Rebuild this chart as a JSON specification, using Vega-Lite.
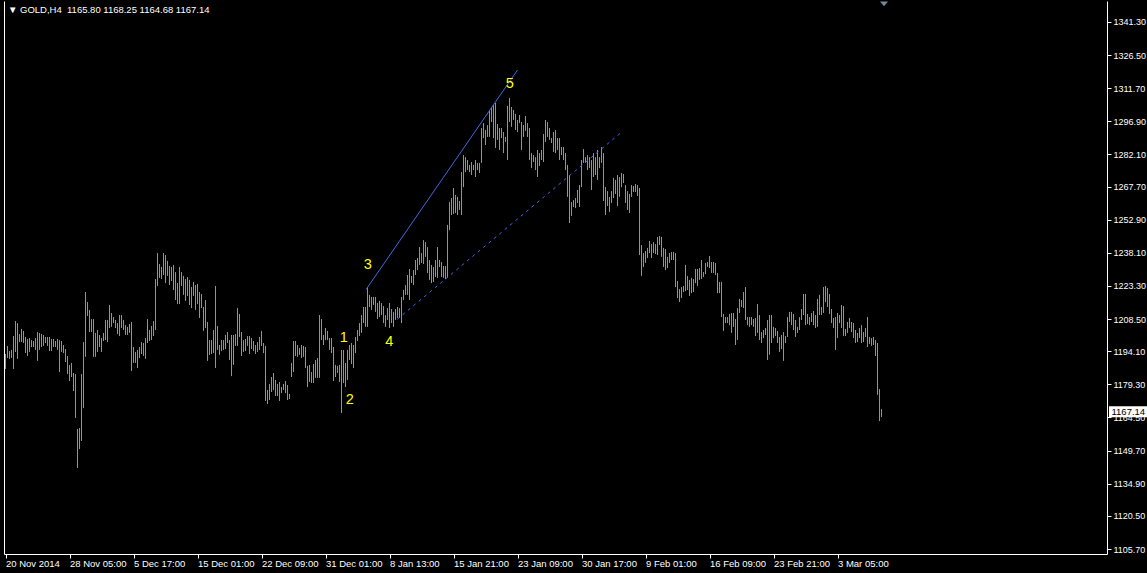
{
"$schema":"https://vega.github.io/schema/vega-lite/v6.json",
"width":1103,"height":553,
"autosize":{"type":"none"},
"padding":{"left":4,"top":1,"right":40,"bottom":19},
"background":"#000000",
"config":{"view":{"stroke":null,"fill":"#000000"},"font":"Liberation Sans"},
"title":{"text":"▼ GOLD,H4\u00a0 1165.80 1168.25 1164.68 1167.14","anchor":"start","frame":"group","orient":"top","offset":-13,"color":"#ffffff","font":"Liberation Sans","fontSize":9.5,"fontWeight":"normal","dx":4},
"datasets":{
"bars":[
{"i":0,"h":1192.9,"l":1186.2},{"i":1,"h":1196.5,"l":1191.1},{"i":2,"h":1194.2,"l":1190.7},{"i":3,"h":1194.7,"l":1191.1},{"i":4,"h":1200.9,"l":1186.2},{"i":5,"h":1207.6,"l":1193.8},{"i":6,"h":1206.7,"l":1190.7},{"i":7,"h":1201.8,"l":1198.2},{"i":8,"h":1204.1,"l":1198.2},{"i":9,"h":1203.2,"l":1197.8},
{"i":10,"h":1200.5,"l":1193.3},{"i":11,"h":1199.6,"l":1192.0},{"i":12,"h":1200.0,"l":1193.8},{"i":13,"h":1199.1,"l":1196.0},{"i":14,"h":1198.7,"l":1196.0},{"i":15,"h":1200.0,"l":1194.7},{"i":16,"h":1202.7,"l":1189.8},{"i":17,"h":1202.3,"l":1194.7},{"i":18,"h":1201.8,"l":1196.0},{"i":19,"h":1201.4,"l":1196.5},
{"i":20,"h":1200.5,"l":1197.8},{"i":21,"h":1200.5,"l":1196.5},{"i":22,"h":1200.5,"l":1194.2},{"i":23,"h":1199.6,"l":1194.2},{"i":24,"h":1199.6,"l":1196.0},{"i":25,"h":1198.7,"l":1196.0},{"i":26,"h":1199.6,"l":1194.7},{"i":27,"h":1199.1,"l":1184.8},{"i":28,"h":1198.7,"l":1193.8},{"i":29,"h":1196.9,"l":1193.3},
{"i":30,"h":1195.1,"l":1189.3},{"i":31,"h":1192.0,"l":1183.9},{"i":32,"h":1188.0,"l":1180.8},{"i":33,"h":1188.9,"l":1182.6},{"i":34,"h":1184.4,"l":1176.3},{"i":35,"h":1183.9,"l":1164.3},{"i":36,"h":1159.4,"l":1141.9},{"i":37,"h":1159.8,"l":1150.4},{"i":38,"h":1183.9,"l":1154.0},{"i":39,"h":1198.2,"l":1168.7},
{"i":40,"h":1220.6,"l":1191.6},{"i":41,"h":1216.1,"l":1209.9},{"i":42,"h":1212.6,"l":1202.7},{"i":43,"h":1208.5,"l":1202.7},{"i":44,"h":1208.5,"l":1191.6},{"i":45,"h":1202.3,"l":1191.6},{"i":46,"h":1203.6,"l":1193.8},{"i":47,"h":1201.4,"l":1196.0},{"i":48,"h":1200.0,"l":1193.8},{"i":49,"h":1202.3,"l":1198.7},
{"i":50,"h":1208.1,"l":1199.1},{"i":51,"h":1208.1,"l":1198.2},{"i":52,"h":1214.8,"l":1204.5},{"i":53,"h":1211.2,"l":1205.0},{"i":54,"h":1209.4,"l":1206.7},{"i":55,"h":1208.1,"l":1204.5},{"i":56,"h":1206.7,"l":1201.8},{"i":57,"h":1210.3,"l":1200.9},{"i":58,"h":1210.3,"l":1204.5},{"i":59,"h":1208.1,"l":1203.6},
{"i":60,"h":1205.8,"l":1201.4},{"i":61,"h":1205.0,"l":1201.4},{"i":62,"h":1206.3,"l":1202.3},{"i":63,"h":1207.2,"l":1185.3},{"i":64,"h":1196.0,"l":1188.9},{"i":65,"h":1193.8,"l":1188.9},{"i":66,"h":1194.7,"l":1186.6},{"i":67,"h":1196.0,"l":1191.1},{"i":68,"h":1198.2,"l":1192.9},{"i":69,"h":1197.8,"l":1192.0},
{"i":70,"h":1200.0,"l":1190.7},{"i":71,"h":1208.5,"l":1197.8},{"i":72,"h":1203.6,"l":1198.7},{"i":73,"h":1205.4,"l":1199.1},{"i":74,"h":1207.6,"l":1200.9},{"i":75,"h":1226.4,"l":1203.6},{"i":76,"h":1238.0,"l":1223.3},{"i":77,"h":1233.1,"l":1226.9},{"i":78,"h":1231.8,"l":1226.4},{"i":79,"h":1238.0,"l":1228.2},
{"i":80,"h":1237.1,"l":1224.6},{"i":81,"h":1234.5,"l":1227.8},{"i":82,"h":1232.2,"l":1223.7},{"i":83,"h":1231.8,"l":1225.5},{"i":84,"h":1232.7,"l":1221.5},{"i":85,"h":1229.5,"l":1217.0},{"i":86,"h":1224.6,"l":1215.2},{"i":87,"h":1231.8,"l":1215.2},{"i":88,"h":1229.5,"l":1223.3},{"i":89,"h":1227.8,"l":1219.3},
{"i":90,"h":1226.4,"l":1216.6},{"i":91,"h":1227.3,"l":1218.8},{"i":92,"h":1226.0,"l":1214.8},{"i":93,"h":1222.8,"l":1213.4},{"i":94,"h":1225.1,"l":1218.8},{"i":95,"h":1223.7,"l":1212.6},{"i":96,"h":1224.2,"l":1215.2},{"i":97,"h":1220.6,"l":1209.0},{"i":98,"h":1219.7,"l":1213.4},{"i":99,"h":1213.9,"l":1203.2},
{"i":100,"h":1217.0,"l":1204.5},{"i":101,"h":1207.2,"l":1189.8},{"i":102,"h":1199.1,"l":1192.5},{"i":103,"h":1199.1,"l":1192.9},{"i":104,"h":1203.6,"l":1193.3},{"i":105,"h":1223.3,"l":1186.6},{"i":106,"h":1205.4,"l":1194.7},{"i":107,"h":1196.9,"l":1192.5},{"i":108,"h":1199.1,"l":1194.2},{"i":109,"h":1199.1,"l":1194.7},
{"i":110,"h":1201.4,"l":1195.1},{"i":111,"h":1202.7,"l":1197.8},{"i":112,"h":1199.1,"l":1190.2},{"i":113,"h":1201.4,"l":1183.0},{"i":114,"h":1201.4,"l":1188.0},{"i":115,"h":1201.8,"l":1196.5},{"i":116,"h":1213.4,"l":1196.5},{"i":117,"h":1210.8,"l":1200.5},{"i":118,"h":1202.7,"l":1192.0},{"i":119,"h":1199.1,"l":1193.8},
{"i":120,"h":1199.6,"l":1194.2},{"i":121,"h":1200.9,"l":1196.5},{"i":122,"h":1200.9,"l":1192.9},{"i":123,"h":1200.0,"l":1195.1},{"i":124,"h":1198.7,"l":1194.2},{"i":125,"h":1196.9,"l":1192.9},{"i":126,"h":1198.2,"l":1193.8},{"i":127,"h":1200.5,"l":1194.7},{"i":128,"h":1203.2,"l":1196.5},{"i":129,"h":1197.8,"l":1193.3},
{"i":130,"h":1196.5,"l":1171.9},{"i":131,"h":1176.8,"l":1170.5},{"i":132,"h":1179.5,"l":1172.3},{"i":133,"h":1182.6,"l":1175.9},{"i":134,"h":1184.4,"l":1176.8},{"i":135,"h":1181.3,"l":1174.1},{"i":136,"h":1179.5,"l":1174.1},{"i":137,"h":1180.4,"l":1171.9},{"i":138,"h":1178.1,"l":1175.4},{"i":139,"h":1179.5,"l":1176.8},
{"i":140,"h":1180.8,"l":1175.4},{"i":141,"h":1179.0,"l":1172.3},{"i":142,"h":1175.0,"l":1172.8},{"i":143,"h":1188.9,"l":1182.6},{"i":144,"h":1198.7,"l":1184.8},{"i":145,"h":1198.7,"l":1192.0},{"i":146,"h":1196.9,"l":1191.6},{"i":147,"h":1195.6,"l":1192.5},{"i":148,"h":1196.9,"l":1191.1},{"i":149,"h":1196.5,"l":1191.6},
{"i":150,"h":1196.0,"l":1186.6},{"i":151,"h":1187.6,"l":1178.1},{"i":152,"h":1188.0,"l":1180.4},{"i":153,"h":1184.8,"l":1179.9},{"i":154,"h":1188.4,"l":1179.9},{"i":155,"h":1190.2,"l":1182.2},{"i":156,"h":1191.1,"l":1182.2},{"i":157,"h":1210.3,"l":1182.2},{"i":158,"h":1208.5,"l":1199.1},{"i":159,"h":1201.4,"l":1196.9},
{"i":160,"h":1204.5,"l":1199.1},{"i":161,"h":1203.2,"l":1199.1},{"i":162,"h":1200.0,"l":1194.7},{"i":163,"h":1200.0,"l":1193.3},{"i":164,"h":1196.0,"l":1180.8},{"i":165,"h":1188.0,"l":1182.6},{"i":166,"h":1187.6,"l":1184.4},{"i":167,"h":1188.0,"l":1180.4},{"i":168,"h":1194.7,"l":1166.5},{"i":169,"h":1194.7,"l":1179.9},
{"i":170,"h":1188.9,"l":1178.1},{"i":171,"h":1194.7,"l":1181.3},{"i":172,"h":1196.9,"l":1190.2},{"i":173,"h":1197.8,"l":1188.4},{"i":174,"h":1196.9,"l":1186.6},{"i":175,"h":1200.5,"l":1193.3},{"i":176,"h":1203.6,"l":1198.7},{"i":177,"h":1206.7,"l":1200.9},{"i":178,"h":1210.3,"l":1202.3},{"i":179,"h":1213.9,"l":1206.7},
{"i":180,"h":1213.9,"l":1205.0},{"i":181,"h":1222.8,"l":1205.0},{"i":182,"h":1219.3,"l":1213.9},{"i":183,"h":1218.4,"l":1212.6},{"i":184,"h":1218.4,"l":1214.8},{"i":185,"h":1218.4,"l":1211.7},{"i":186,"h":1215.7,"l":1208.5},{"i":187,"h":1216.6,"l":1209.4},{"i":188,"h":1215.7,"l":1210.3},{"i":189,"h":1214.3,"l":1206.7},
{"i":190,"h":1210.3,"l":1205.0},{"i":191,"h":1213.4,"l":1208.1},{"i":192,"h":1215.7,"l":1204.5},{"i":193,"h":1213.0,"l":1206.7},{"i":194,"h":1211.7,"l":1205.0},{"i":195,"h":1213.0,"l":1208.1},{"i":196,"h":1213.9,"l":1209.0},{"i":197,"h":1213.4,"l":1209.0},{"i":198,"h":1218.4,"l":1206.7},{"i":199,"h":1221.5,"l":1217.0},
{"i":200,"h":1223.7,"l":1219.3},{"i":201,"h":1228.2,"l":1219.3},{"i":202,"h":1230.9,"l":1217.0},{"i":203,"h":1227.8,"l":1224.6},{"i":204,"h":1230.4,"l":1223.7},{"i":205,"h":1234.9,"l":1228.2},{"i":206,"h":1235.8,"l":1230.4},{"i":207,"h":1240.7,"l":1232.7},{"i":208,"h":1238.0,"l":1233.6},{"i":209,"h":1243.8,"l":1233.1},
{"i":210,"h":1242.9,"l":1236.3},{"i":211,"h":1240.7,"l":1229.1},{"i":212,"h":1234.9,"l":1226.0},{"i":213,"h":1232.7,"l":1224.6},{"i":214,"h":1231.8,"l":1225.1},{"i":215,"h":1234.9,"l":1227.3},{"i":216,"h":1240.7,"l":1226.9},{"i":217,"h":1234.9,"l":1231.8},{"i":218,"h":1234.0,"l":1227.3},{"i":219,"h":1232.2,"l":1226.9},
{"i":220,"h":1232.2,"l":1226.4},{"i":221,"h":1250.6,"l":1226.9},{"i":222,"h":1260.8,"l":1248.3},{"i":223,"h":1262.6,"l":1255.0},{"i":224,"h":1267.1,"l":1255.5},{"i":225,"h":1264.0,"l":1255.9},{"i":226,"h":1263.1,"l":1255.0},{"i":227,"h":1261.3,"l":1257.3},{"i":228,"h":1274.2,"l":1255.0},{"i":229,"h":1281.8,"l":1267.5},
{"i":230,"h":1280.9,"l":1274.2},{"i":231,"h":1279.6,"l":1275.1},{"i":232,"h":1277.4,"l":1274.2},{"i":233,"h":1278.7,"l":1272.9},{"i":234,"h":1277.4,"l":1275.1},{"i":235,"h":1279.6,"l":1272.0},{"i":236,"h":1278.3,"l":1275.1},{"i":237,"h":1278.3,"l":1273.8},{"i":238,"h":1293.9,"l":1278.3},{"i":239,"h":1296.1,"l":1289.4},
{"i":240,"h":1293.0,"l":1286.3},{"i":241,"h":1295.2,"l":1289.9},{"i":242,"h":1302.0,"l":1289.9},{"i":243,"h":1303.3,"l":1296.6},{"i":244,"h":1304.2,"l":1289.4},{"i":245,"h":1305.1,"l":1285.0},{"i":246,"h":1295.7,"l":1288.6},{"i":247,"h":1293.9,"l":1284.1},{"i":248,"h":1293.9,"l":1289.4},{"i":249,"h":1292.1,"l":1282.7},
{"i":250,"h":1289.9,"l":1287.7},{"i":251,"h":1303.8,"l":1279.6},{"i":252,"h":1307.3,"l":1296.6},{"i":253,"h":1303.3,"l":1294.4},{"i":254,"h":1302.0,"l":1297.5},{"i":255,"h":1300.2,"l":1293.0},{"i":256,"h":1297.5,"l":1292.1},{"i":257,"h":1299.7,"l":1296.1},{"i":258,"h":1296.6,"l":1284.1},{"i":259,"h":1295.2,"l":1289.9},
{"i":260,"h":1299.3,"l":1292.6},{"i":261,"h":1296.1,"l":1289.9},{"i":262,"h":1293.9,"l":1279.6},{"i":263,"h":1282.7,"l":1276.0},{"i":264,"h":1281.8,"l":1278.7},{"i":265,"h":1280.9,"l":1275.1},{"i":266,"h":1284.1,"l":1272.0},{"i":267,"h":1282.7,"l":1276.9},{"i":268,"h":1284.1,"l":1279.6},{"i":269,"h":1291.2,"l":1278.7},
{"i":270,"h":1297.5,"l":1287.7},{"i":271,"h":1296.6,"l":1289.9},{"i":272,"h":1293.9,"l":1288.6},{"i":273,"h":1289.4,"l":1287.2},{"i":274,"h":1292.1,"l":1283.2},{"i":275,"h":1293.0,"l":1282.7},{"i":276,"h":1289.4,"l":1284.1},{"i":277,"h":1289.4,"l":1279.6},{"i":278,"h":1285.4,"l":1281.8},{"i":279,"h":1285.4,"l":1279.6},
{"i":280,"h":1282.7,"l":1275.1},{"i":281,"h":1277.4,"l":1263.1},{"i":282,"h":1272.9,"l":1251.4},{"i":283,"h":1260.8,"l":1254.6},{"i":284,"h":1261.7,"l":1258.6},{"i":285,"h":1262.6,"l":1258.1},{"i":286,"h":1266.2,"l":1260.4},{"i":287,"h":1268.4,"l":1258.6},{"i":288,"h":1279.6,"l":1267.5},{"i":289,"h":1284.5,"l":1278.3},
{"i":290,"h":1280.9,"l":1278.3},{"i":291,"h":1281.8,"l":1275.1},{"i":292,"h":1280.9,"l":1276.0},{"i":293,"h":1279.6,"l":1266.2},{"i":294,"h":1282.7,"l":1272.0},{"i":295,"h":1280.9,"l":1272.9},{"i":296,"h":1284.1,"l":1270.7},{"i":297,"h":1280.9,"l":1276.0},{"i":298,"h":1285.4,"l":1278.3},{"i":299,"h":1282.7,"l":1261.3},
{"i":300,"h":1267.5,"l":1255.0},{"i":301,"h":1265.7,"l":1259.0},{"i":302,"h":1263.1,"l":1256.4},{"i":303,"h":1265.7,"l":1260.4},{"i":304,"h":1271.6,"l":1262.6},{"i":305,"h":1270.7,"l":1264.4},{"i":306,"h":1272.9,"l":1259.0},{"i":307,"h":1272.0,"l":1263.1},{"i":308,"h":1273.8,"l":1267.5},{"i":309,"h":1273.3,"l":1269.3},
{"i":310,"h":1268.4,"l":1260.4},{"i":311,"h":1265.7,"l":1257.3},{"i":312,"h":1264.4,"l":1255.9},{"i":313,"h":1268.4,"l":1263.1},{"i":314,"h":1268.0,"l":1265.3},{"i":315,"h":1268.9,"l":1265.3},{"i":316,"h":1268.4,"l":1263.5},{"i":317,"h":1267.1,"l":1237.1},{"i":318,"h":1241.6,"l":1227.8},{"i":319,"h":1238.0,"l":1231.8},
{"i":320,"h":1238.9,"l":1233.6},{"i":321,"h":1240.3,"l":1235.8},{"i":322,"h":1243.4,"l":1238.0},{"i":323,"h":1242.0,"l":1235.8},{"i":324,"h":1242.9,"l":1238.0},{"i":325,"h":1242.0,"l":1237.6},{"i":326,"h":1245.2,"l":1237.1},{"i":327,"h":1245.6,"l":1241.6},{"i":328,"h":1245.2,"l":1236.3},{"i":329,"h":1240.3,"l":1231.8},
{"i":330,"h":1239.8,"l":1230.4},{"i":331,"h":1236.3,"l":1231.3},{"i":332,"h":1238.0,"l":1233.6},{"i":333,"h":1238.5,"l":1234.9},{"i":334,"h":1238.5,"l":1234.9},{"i":335,"h":1238.0,"l":1222.8},{"i":336,"h":1225.5,"l":1217.9},{"i":337,"h":1221.9,"l":1216.1},{"i":338,"h":1222.8,"l":1217.9},{"i":339,"h":1223.3,"l":1220.6},
{"i":340,"h":1232.7,"l":1221.0},{"i":341,"h":1227.8,"l":1221.5},{"i":342,"h":1226.0,"l":1218.8},{"i":343,"h":1226.9,"l":1220.1},{"i":344,"h":1226.4,"l":1220.6},{"i":345,"h":1230.9,"l":1224.6},{"i":346,"h":1230.9,"l":1223.3},{"i":347,"h":1231.3,"l":1226.0},{"i":348,"h":1234.9,"l":1226.4},{"i":349,"h":1229.5,"l":1227.3},
{"i":350,"h":1233.6,"l":1228.6},{"i":351,"h":1234.0,"l":1231.8},{"i":352,"h":1236.7,"l":1231.3},{"i":353,"h":1234.0,"l":1229.1},{"i":354,"h":1234.0,"l":1229.1},{"i":355,"h":1233.6,"l":1228.2},{"i":356,"h":1229.1,"l":1220.1},{"i":357,"h":1225.1,"l":1220.1},{"i":358,"h":1225.1,"l":1209.4},{"i":359,"h":1210.8,"l":1203.2},
{"i":360,"h":1209.4,"l":1206.7},{"i":361,"h":1209.4,"l":1206.7},{"i":362,"h":1210.8,"l":1205.8},{"i":363,"h":1211.2,"l":1202.3},{"i":364,"h":1211.2,"l":1205.0},{"i":365,"h":1208.5,"l":1196.9},{"i":366,"h":1213.4,"l":1199.1},{"i":367,"h":1217.5,"l":1211.2},{"i":368,"h":1217.0,"l":1213.9},{"i":369,"h":1220.6,"l":1213.4},
{"i":370,"h":1222.8,"l":1208.1},{"i":371,"h":1209.4,"l":1205.8},{"i":372,"h":1209.4,"l":1205.0},{"i":373,"h":1209.4,"l":1205.8},{"i":374,"h":1208.5,"l":1205.0},{"i":375,"h":1209.0,"l":1200.9},{"i":376,"h":1215.2,"l":1202.3},{"i":377,"h":1210.3,"l":1199.1},{"i":378,"h":1202.7,"l":1197.8},{"i":379,"h":1203.6,"l":1200.0},
{"i":380,"h":1204.5,"l":1201.4},{"i":381,"h":1208.1,"l":1190.2},{"i":382,"h":1210.3,"l":1192.5},{"i":383,"h":1210.3,"l":1197.8},{"i":384,"h":1205.0,"l":1200.0},{"i":385,"h":1204.5,"l":1200.9},{"i":386,"h":1203.2,"l":1197.8},{"i":387,"h":1200.5,"l":1193.8},{"i":388,"h":1201.4,"l":1195.1},{"i":389,"h":1202.7,"l":1189.8},
{"i":390,"h":1200.9,"l":1197.8},{"i":391,"h":1209.4,"l":1200.5},{"i":392,"h":1211.7,"l":1207.2},{"i":393,"h":1211.7,"l":1205.8},{"i":394,"h":1210.8,"l":1203.6},{"i":395,"h":1208.1,"l":1200.5},{"i":396,"h":1205.0,"l":1202.3},{"i":397,"h":1209.4,"l":1203.6},{"i":398,"h":1213.0,"l":1208.1},{"i":399,"h":1219.7,"l":1210.3},
{"i":400,"h":1219.7,"l":1205.8},{"i":401,"h":1210.8,"l":1206.3},{"i":402,"h":1209.4,"l":1205.8},{"i":403,"h":1211.2,"l":1207.2},{"i":404,"h":1212.1,"l":1205.8},{"i":405,"h":1210.3,"l":1204.5},{"i":406,"h":1217.5,"l":1205.0},{"i":407,"h":1219.3,"l":1210.3},{"i":408,"h":1213.9,"l":1210.3},{"i":409,"h":1222.8,"l":1211.2},
{"i":410,"h":1223.3,"l":1216.1},{"i":411,"h":1222.4,"l":1213.9},{"i":412,"h":1219.7,"l":1210.8},{"i":413,"h":1213.0,"l":1206.7},{"i":414,"h":1209.0,"l":1204.5},{"i":415,"h":1209.4,"l":1194.7},{"i":416,"h":1211.2,"l":1200.0},{"i":417,"h":1210.3,"l":1206.7},{"i":418,"h":1214.8,"l":1204.5},{"i":419,"h":1214.3,"l":1200.9},
{"i":420,"h":1204.1,"l":1200.9},{"i":421,"h":1207.2,"l":1202.3},{"i":422,"h":1209.0,"l":1204.5},{"i":423,"h":1207.2,"l":1202.7},{"i":424,"h":1206.7,"l":1200.0},{"i":425,"h":1203.6,"l":1197.8},{"i":426,"h":1202.3,"l":1198.2},{"i":427,"h":1204.5,"l":1200.0},{"i":428,"h":1205.8,"l":1197.8},{"i":429,"h":1202.7,"l":1198.2},
{"i":430,"h":1204.5,"l":1200.5},{"i":431,"h":1209.4,"l":1196.0},{"i":432,"h":1200.5,"l":1197.4},{"i":433,"h":1200.0,"l":1196.5},{"i":434,"h":1200.5,"l":1196.9},{"i":435,"h":1199.1,"l":1192.0},{"i":436,"h":1197.8,"l":1174.6},{"i":437,"h":1177.2,"l":1162.9},{"i":438,"h":1168.25,"l":1164.68}
],
"solid":[{"i":180.35,"p":1221.8},{"i":256,"p":1319.84}],
"dotted":[{"i":195.85,"p":1208.4},{"i":308.35,"p":1292.26}],
"waves":[{"t":"1","i":169.15,"p":1199.9},{"t":"2","i":172.15,"p":1172.3},{"t":"3","i":181.15,"p":1232.7},{"t":"4","i":191.85,"p":1198.4},{"t":"5","i":252.15,"p":1313.6}],
"bid":[{"i1":551.75,"i2":571,"p1":1169.5,"p2":1164.6,"ti":553.0,"tp":1167.14,"t":"1167.14"}],
"shift":[{"i":439.25,"p":1349.4}]
},
"layer":[
{"data":{"name":"bars"},"mark":{"type":"rule","color":"#32d926","strokeWidth":1},
 "encoding":{
  "x":{"field":"i","type":"quantitative","title":null,"scale":{"domain":[-0.75,550.75],"nice":false,"zero":false},
   "axis":{"orient":"bottom","values":[0,32,64,96,128,160,192,224,256,288,320,352,384,416],
    "labelExpr":"['20 Nov 2014','28 Nov 05:00','5 Dec 17:00','15 Dec 01:00','22 Dec 09:00','31 Dec 01:00','8 Jan 13:00','15 Jan 21:00','23 Jan 09:00','30 Jan 17:00','9 Feb 01:00','16 Feb 09:00','23 Feb 21:00','3 Mar 05:00'][round(datum.value/32)]",
    "labelAlign":"left","labelDx":-2,"labelColor":"#ffffff","labelFont":"Liberation Sans","labelFontSize":9.5,"labelPadding":0,"labelOverlap":false,"labelFlush":false,"labelBound":false,
    "tickColor":"#ffffff","tickSize":4,"domain":true,"domainColor":"#ffffff","ticks":true,"labels":true,"grid":false}},
  "y":{"field":"h","type":"quantitative","title":null,"scale":{"domain":[1103.48,1350.68],"nice":false,"zero":false},
   "axis":{"orient":"right","values":[1105.7,1120.5,1134.9,1149.7,1164.5,1179.3,1194.1,1208.5,1223.3,1238.1,1252.9,1267.7,1282.1,1296.9,1311.7,1326.5,1341.3],
    "format":".2f","labelAlign":"left","labelBaseline":"middle","labelColor":"#ffffff","labelFont":"Liberation Sans","labelFontSize":9,"labelPadding":2,"labelOverlap":false,"labelBound":false,
    "tickColor":"#ffffff","tickSize":4,"domainColor":"#ffffff","grid":false}},
  "y2":{"field":"l"}
 }},
{"mark":{"type":"rule","color":"#778899","strokeWidth":1},
 "encoding":{"y":{"datum":1167.14,"type":"quantitative","title":null,"axis":{"orient":"left","labels":false,"ticks":false,"domain":true,"domainColor":"#ffffff","grid":false}}}},
{"data":{"name":"solid"},"mark":{"type":"line","color":"#4169e1","strokeWidth":1},
 "encoding":{"x":{"field":"i","type":"quantitative","title":null},"y":{"field":"p","type":"quantitative","axis":null}}},
{"data":{"name":"dotted"},"mark":{"type":"line","color":"#4169e1","strokeWidth":1,"strokeDash":[3,4]},
 "encoding":{"x":{"field":"i","type":"quantitative","title":null},"y":{"field":"p","type":"quantitative","axis":null}}},
{"data":{"name":"waves"},"mark":{"type":"text","color":"#ffff00","font":"Liberation Sans","fontSize":14.5,"align":"center","baseline":"middle"},
 "encoding":{"x":{"field":"i","type":"quantitative","title":null},"y":{"field":"p","type":"quantitative","axis":null},"text":{"field":"t"}}},
{"data":{"name":"bid"},"mark":{"type":"rect","color":"#ffffff","clip":false},
 "encoding":{"x":{"field":"i1","type":"quantitative","title":null},"x2":{"field":"i2"},"y":{"field":"p1","type":"quantitative","axis":null},"y2":{"field":"p2"}}},
{"data":{"name":"bid"},"mark":{"type":"text","color":"#000000","font":"Liberation Sans","fontSize":9.5,"align":"left","baseline":"middle","clip":false},
 "encoding":{"x":{"field":"ti","type":"quantitative","title":null},"y":{"field":"tp","type":"quantitative","axis":null},"text":{"field":"t"}}},
{"data":{"name":"shift"},"mark":{"type":"point","shape":"M-1,-0.6L1,-0.6L0,0.6Z","filled":true,"color":"#778899","size":64,"opacity":1,"strokeWidth":0},
 "encoding":{"x":{"field":"i","type":"quantitative","title":null},"y":{"field":"p","type":"quantitative","axis":null}}}
],
"resolve":{"axis":{"y":"independent"}}
}
